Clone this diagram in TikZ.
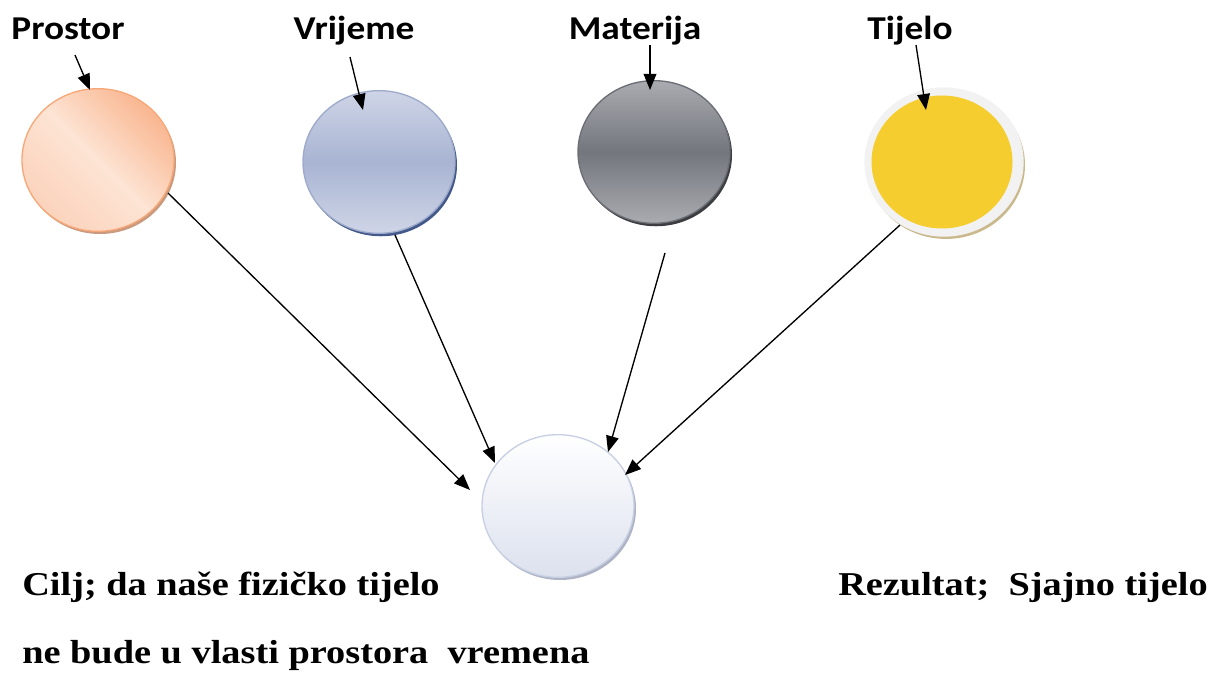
\documentclass[tikz,border=0pt]{standalone}
\usepackage{fontspec}
\setmainfont{Liberation Serif}
\newfontfamily\calib{Carlito}
\usetikzlibrary{shapes.geometric,arrows.meta,calc,shadows}
\definecolor{proA}{HTML}{F9B690}
\definecolor{proB}{HTML}{FDE4D4}
\definecolor{proC}{HTML}{FBD3BC}
\definecolor{proD}{HTML}{F7A878}
\definecolor{proS}{HTML}{C99A7E}
\definecolor{vrA}{HTML}{CFD5E7}
\definecolor{vrB}{HTML}{A8B4D2}
\definecolor{vrD}{HTML}{9DAACB}
\definecolor{vrS}{HTML}{42598A}
\definecolor{maA}{HTML}{A9ABB0}
\definecolor{maB}{HTML}{73767D}
\definecolor{maD}{HTML}{6B6E75}
\definecolor{maS}{HTML}{3C3D40}
\definecolor{tiO}{HTML}{F2F2F2}
\definecolor{tiY}{HTML}{F5CD2E}
\definecolor{tiS}{HTML}{C9B98C}
\definecolor{boA}{HTML}{FFFFFF}
\definecolor{boB}{HTML}{DCE1EE}
\definecolor{boD}{HTML}{C7CFE2}
\definecolor{boS}{HTML}{AEB4C6}
\newcommand{\lbl}[1]{\scalebox{1.12}[1]{#1}}
\newcommand{\btx}[1]{\scalebox{1.15}[1]{#1}}
\tikzset{
  disc/.style={ellipse, inner sep=0pt, minimum width=114pt, minimum height=107pt, line width=1pt},
  lab/.style={font=\calib\bfseries\fontsize{25}{30}\selectfont, inner sep=0pt, anchor=base},
  txt/.style={font=\bfseries\fontsize{25}{30}\selectfont, inner sep=0pt, anchor=base west},
  arr/.style={-{Triangle[length=12pt,width=9.5pt]}, line width=1pt, black},
}
\begin{document}
\begin{tikzpicture}[x=0.75pt,y=0.75pt]
\useasboundingbox (0,0) rectangle (1219,-677);
% discs
\node[disc, draw=proD, top color=proA, bottom color=proC, middle color=proB, shading angle=-45,
  drop shadow={shadow xshift=1.5pt, shadow yshift=-2pt, fill=proS, opacity=1}] (pro) at (98,-160) {};
\node[disc, draw=vrD, top color=vrA, bottom color=vrA, middle color=vrB,
  drop shadow={shadow xshift=1.5pt, shadow yshift=-2.2pt, fill=vrS, opacity=1}] (vr) at (379,-162) {};
\node[disc, draw=maD, top color=maA, bottom color=maA, middle color=maB,
  drop shadow={shadow xshift=1.5pt, shadow yshift=-2.2pt, fill=maS, opacity=1}] (ma) at (654,-152) {};
\node[disc, minimum width=118.5pt, minimum height=111pt, draw=tiO, fill=tiO,
  drop shadow={shadow xshift=1.5pt, shadow yshift=-2.2pt, fill=tiS, opacity=1}] (ti) at (944,-162) {};
\node[disc, minimum width=105.75pt, minimum height=99.75pt, fill=tiY] (tiy) at (942,-162) {};
\node[disc, draw=boD, top color=boA, bottom color=boB,
  drop shadow={shadow xshift=1.5pt, shadow yshift=-2pt, fill=boS, opacity=1}] (bo) at (558,-506) {};
% labels
\node[lab] (lpro) at (68,-40) {\lbl{Prostor}};
\node[lab] (lvr) at (354,-40) {\lbl{Vrijeme}};
\node[lab] (lma) at (635,-40) {\lbl{Materija}};
\node[lab] (lti) at (910,-40) {\lbl{Tijelo}};
% arrow end points
\coordinate (pt1) at (75,-55);   \coordinate (pe1) at (90,-90);
\coordinate (pt2) at (350,-57);  \coordinate (pe2) at (363,-110);
\coordinate (pt3) at (650,-45);  \coordinate (pe3) at (650,-90);
\coordinate (pt4) at (916,-45);  \coordinate (pe4) at (926,-110);
\coordinate (qs1) at (168,-193); \coordinate (qe1) at (470,-490);
\coordinate (qs2) at (395,-235); \coordinate (qe2) at (495,-463);
\coordinate (qs3) at (665,-253); \coordinate (qe3) at (608,-452);
\coordinate (qs4) at (900,-225); \coordinate (qe4) at (625,-475);
\draw[arr] (pt1) -- (pe1);
\draw[arr] (pt2) -- (pe2);
\draw[arr] (pt3) -- (pe3);
\draw[arr] (pt4) -- (pe4);
\draw[arr] (qs1) -- (qe1);
\draw[arr] (qs2) -- (qe2);
\draw[arr] (qs3) -- (qe3);
\draw[arr] (qs4) -- (qe4);
% texts
\node[txt] (t1) at (22,-595) {\btx{Cilj; da naše fizičko tijelo}};
\node[txt] (t2) at (22,-663) {\btx{ne bude u vlasti prostora\ \ vremena}};
\node[txt] (t3) at (838,-595) {\btx{Rezultat;\ \ Sjajno tijelo}};
\end{tikzpicture}
\end{document}
